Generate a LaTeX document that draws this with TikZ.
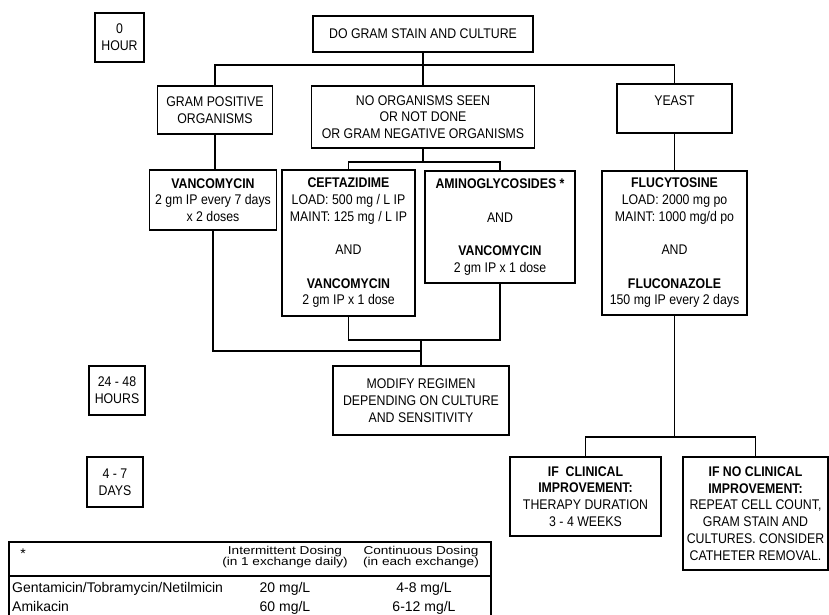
\documentclass[tikz,border=0pt]{standalone}
\usepackage{fontspec}
\usepackage{graphicx}
\setmainfont{Liberation Sans}[FakeStretch=0.88]
\newfontfamily\tabfont{Liberation Sans}
\newcommand{\vsq}[1]{\scalebox{1}[0.84]{#1}}
\begin{document}
\begin{tikzpicture}[x=1pt,y=-1pt,
  box/.style={draw, line width=1.1pt, inner sep=0pt, align=center, font=\fontsize{14}{16.7}\selectfont},
  conn/.style={line width=1.1pt},
  tabtxt/.style={inner sep=0pt, font=\tabfont\fontsize{14}{16}\selectfont},
  tabhdr/.style={inner sep=0pt, align=center, font={\tabfont\fontsize{13.6}{10.6}\selectfont\lineskiplimit=-20pt}}]
\fill[white] (0,0) rectangle (829,615);
\useasboundingbox (0,0) rectangle (829,615);

% time boxes
\node[box, minimum width=49, minimum height=49] (h0) at (119.5,37.5) {0\\HOUR};
\node[box, minimum width=56, minimum height=49] (h24) at (117,390.5) {24 - 48\\HOURS};
\node[box, minimum width=56, minimum height=50] (d47) at (115,482) {4 - 7\\DAYS};

% flow boxes
\node[box, minimum width=220, minimum height=36] (gs) at (423,34) {DO GRAM STAIN AND CULTURE};
\node[box, minimum width=115, minimum height=48] (gp) at (215,110) {GRAM POSITIVE\\ORGANISMS};
\node[box, minimum width=223, minimum height=62] (no) at (423,117) {NO ORGANISMS SEEN\\OR NOT DONE\\OR GRAM NEGATIVE ORGANISMS};
\node[box, minimum width=115, minimum height=49] (ye) at (674.5,108.5) {YEAST\\\mbox{}};
\node[box, minimum width=127, minimum height=60] (va) at (213,200) {\textbf{VANCOMYCIN}\\2 gm IP every 7 days\\x 2 doses};
\node[box, minimum width=133, minimum height=146] (ce) at (348.5,243) {\textbf{CEFTAZIDIME}\\LOAD: 500 mg / L IP\\MAINT: 125 mg / L IP\\[16.7pt]AND\\[16.7pt]\textbf{VANCOMYCIN}\\2 gm IP x 1 dose};
\node[box, minimum width=150, minimum height=112] (am) at (500,227) {\textbf{AMINOGLYCOSIDES *}\\[16.7pt]AND\\[16.7pt]\textbf{VANCOMYCIN}\\2 gm IP x 1 dose};
\node[box, minimum width=145, minimum height=144] (fl) at (674.5,243) {\textbf{FLUCYTOSINE}\\LOAD: 2000 mg po\\MAINT: 1000 mg/d po\\[16.7pt]AND\\[16.7pt]\textbf{FLUCONAZOLE}\\150 mg IP every 2 days};
\node[box, minimum width=176, minimum height=69] (mo) at (421,400.5) {MODIFY REGIMEN\\DEPENDING ON CULTURE\\AND SENSITIVITY};
\node[box, minimum width=151, minimum height=79] (ic) at (585.5,496.5) {\textbf{IF\ \ CLINICAL}\\\textbf{IMPROVEMENT:}\\THERAPY DURATION\\3 - 4 WEEKS};
\node[box, minimum width=145, minimum height=113] (inc) at (755.5,513.5) {\textbf{IF NO CLINICAL}\\\textbf{IMPROVEMENT:}\\REPEAT CELL COUNT,\\GRAM STAIN AND\\CULTURES. CONSIDER\\CATHETER REMOVAL.};

% connectors
\coordinate (bus) at (423,65);
\coordinate (nj) at (423,162);
\coordinate (cj) at (421,340);
\coordinate (vj) at (421,351);
\coordinate (fj) at (674.5,437);
\draw[conn] (gs.south) -- (no.north);
\draw[conn] (gp.north) |- (bus) -| (ye.north);
\draw[conn] (gp.south) -- (gp.south |- va.north);
\draw[conn] (no.south) -- (nj);
\draw[conn] (ce.north) |- (nj) -| (am.north);
\draw[conn] (ce.south) |- (cj) -| (am.south);
\draw[conn] (cj) -- (mo.north);
\draw[conn] (va.south) |- (vj);
\draw[conn] (ye.south) -- (fl.north);
\draw[conn] (fl.south) -- (fj);
\draw[conn] (ic.north) |- (fj) -| (inc.north);

% table
\draw[conn] (9,620) -- (9,542) -- (491,542) -- (491,620);
\draw[conn] (9,576) -- (491,576);
\node[tabtxt, anchor=base] (ast) at (23,558) {*};
\node[tabhdr] (th1) at (285,557) {\vsq{Intermittent Dosing}\\\vsq{(in 1 exchange daily)}};
\node[tabhdr] (th2) at (421,557) {\vsq{Continuous Dosing}\\\vsq{(in each exchange)}};
\node[tabtxt, anchor=base west] (r1a) at (12,592) {Gentamicin/Tobramycin/Netilmicin};
\node[tabtxt, anchor=base] (r1b) at (285,592) {20 mg/L};
\node[tabtxt, anchor=base] (r1c) at (424,592) {4-8 mg/L};
\node[tabtxt, anchor=base west] (r2a) at (12,611.5) {Amikacin};
\node[tabtxt, anchor=base] (r2b) at (285,611.5) {60 mg/L};
\node[tabtxt, anchor=base] (r2c) at (424,611.5) {6-12 mg/L};
\end{tikzpicture}
\end{document}
